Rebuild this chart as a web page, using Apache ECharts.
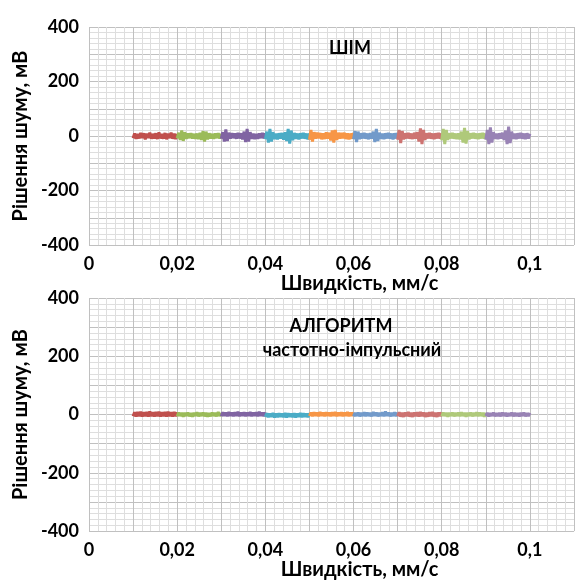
<!DOCTYPE html>
<html>
<head>
<meta charset="utf-8">
<title></title>
<script type="text/javascript" src="https://cdn.jsdelivr.net/npm/echarts@6/dist/echarts.min.js"></script>
<style>
  html, body { margin: 0; padding: 0; background: #fff; }
</style>
</head>
<body>
<div id="main" style="width:577px;height:581px;"></div>
<script type="text/javascript">
// speeds where each coloured piece starts (mm/s), each piece covers 0.01
var segStarts = [0.01, 0.02, 0.03, 0.04, 0.05, 0.06, 0.07, 0.08, 0.09];
var segColors = ['#C0504D', '#9BBB59', '#8064A2', '#4BACC6', '#F79646', '#729ACA', '#CD7371', '#AFC97A', '#9983B5'];
var xTickLabels = ['0', '0,02', '0,04', '0,06', '0,08', '0,1'];
var yTickLabels = ['-400', '-200', '0', '200', '400'];

// noise (ШІМ), mV
var pwmNoise = [
  [-8, 9, -10, 7, -9, 11, -8, 10, -12, 9, -7, 12, -10, 8, -9, 10, -11, 13, -9, 8, -10, 11, -12, 9, -8, 12, -10, 9, -11, 8],
  [-9, 12, -14, 20, -18, 14, -10, 9, -8, 10, -9, 8, -10, 9, -11, 12, -14, 18, -20, 16, -12, 10, -9, 8, -10, 9, -8, 10, -9, 8],
  [-10, 14, -20, 24, -18, 12, -9, 10, -8, 9, -10, 11, -9, 10, -12, 16, -22, 26, -20, 14, -10, 9, -11, 8, -10, 9, -8, 11, -9, 10],
  [-12, 16, -24, 26, -20, 14, -11, 9, -12, 10, -9, 11, -13, 14, -18, 26, -28, 20, -15, 11, -10, 9, -12, 10, -9, 11, -10, 9, -12, 10],
  [-14, 22, -20, 14, -10, 12, -9, 11, -12, 10, -11, 13, -10, 12, -16, 20, -24, 22, -14, 12, -10, 11, -9, 12, -11, 10, -12, 9, -10, 11],
  [-12, 18, -22, 16, -11, 10, -9, 11, -10, 9, -12, 11, -10, 16, -22, 26, -18, 12, -10, 9, -11, 10, -9, 11, -10, 9, -12, 10, -9, 11],
  [-14, 22, -26, 18, -12, 10, -9, 11, -10, 9, -11, 12, -10, 14, -20, 28, -30, 22, -14, 10, -9, 11, -10, 9, -11, 10, -9, 11, -10, 9],
  [-16, 26, -30, 22, -14, 10, -9, 11, -10, 9, -11, 10, -12, 16, -24, 30, -28, 18, -12, 10, -9, 11, -10, 9, -11, 10, -9, 11, -10, 9],
  [-14, 22, -30, 32, -24, 14, -10, 9, -11, 10, -9, 12, -14, 20, -30, 34, -26, 16, -10, 9, -11, 10, -9, 11, -10, 9, -11, 10, -9, 8]
];

// noise (частотно-імпульсний), mV
var fpmNoise = [
  [-6, 8, -7, 9, -6, 10, -7, 8, -6, 9, -7, 11, -6, 8, -7, 9, -6, 10, -7, 8, -6, 9, -7, 10, -6, 8, -7, 9, -6, 8],
  [-6, 7, -5, 6, -7, 6, -5, 7, -6, 5, -7, 6, -5, 8, -6, 6, -5, 7, -6, 6, -7, 5, -6, 7, -5, 6, -6, 9, -5, 6],
  [-6, 8, -5, 7, -6, 9, -5, 7, -6, 8, -5, 10, -6, 7, -5, 8, -6, 7, -5, 9, -6, 7, -5, 8, -6, 10, -5, 7, -6, 8],
  [-8, 4, -9, 3, -8, 5, -10, 3, -9, 4, -8, 3, -9, 5, -10, 4, -8, 3, -9, 4, -10, 3, -8, 5, -9, 4, -8, 3, -9, 4],
  [-5, 7, -6, 8, -5, 7, -6, 9, -5, 7, -6, 8, -5, 7, -6, 8, -5, 9, -6, 7, -5, 8, -6, 7, -5, 9, -6, 7, -5, 8],
  [-6, 6, -5, 7, -6, 6, -5, 8, -6, 7, -5, 6, -6, 9, -5, 7, -6, 6, -5, 8, -6, 11, -5, 7, -6, 6, -5, 8, -6, 7],
  [-6, 8, -7, 6, -8, 7, -6, 9, -7, 6, -8, 7, -6, 8, -7, 9, -6, 7, -8, 6, -7, 8, -6, 9, -7, 6, -8, 7, -6, 8],
  [-6, 7, -5, 6, -7, 6, -5, 7, -6, 6, -5, 7, -6, 8, -5, 6, -7, 6, -5, 7, -6, 6, -5, 8, -6, 7, -5, 6, -7, 6],
  [-5, 6, -6, 5, -5, 7, -6, 5, -5, 6, -6, 7, -5, 6, -6, 5, -5, 7, -6, 6, -5, 5, -6, 6, -5, 7, -6, 5, -5, 6]
];

var FONT = 'Lato';

function toPairs(start, vals) {
  var step = 0.01 / (vals.length - 1);
  return vals.map(function (v, i) { return [start + i * step, v]; });
}

function xAxisFor(idx) {
  return {
    gridIndex: idx, type: 'value', min: 0, max: 0.11, interval: 0.01,
    name: 'Швидкість, мм/с', nameLocation: 'middle', nameGap: 28,
    nameTextStyle: { fontFamily: FONT, fontWeight: 'bold', fontSize: 20, color: '#000', padding: [0, 0, 0, 56] },
    axisLine: { show: false }, axisTick: { show: false },
    axisLabel: {
      margin: 10, fontFamily: FONT, fontWeight: 'bold', fontSize: 18, color: '#000',
      formatter: function (v) {
        var k = Math.round(v * 100);
        return (k % 2 === 0 && k / 2 < xTickLabels.length) ? xTickLabels[k / 2] : '';
      }
    },
    splitLine: { show: true, lineStyle: { color: '#c0c0c0', width: 1 } },
    minorTick: { show: false, splitNumber: 5 },
    minorSplitLine: { show: true, lineStyle: { color: '#dedede', width: 1 } }
  };
}

function yAxisFor(idx) {
  return {
    gridIndex: idx, type: 'value', min: -400, max: 400, interval: 100,
    name: 'Рішення шуму, мВ', nameLocation: 'middle', nameGap: 57, nameRotate: 90,
    nameTextStyle: { fontFamily: FONT, fontWeight: 'bold', fontSize: 20, color: '#000' },
    axisLine: { show: false }, axisTick: { show: false },
    axisLabel: {
      margin: 10, fontFamily: FONT, fontWeight: 'bold', fontSize: 18, color: '#000',
      formatter: function (v) {
        var k = Math.round(v / 200) + 2;
        return (v % 200 === 0) ? yTickLabels[k] : '';
      }
    },
    splitLine: { show: true, lineStyle: { color: '#c0c0c0', width: 1 } },
    minorTick: { show: false, splitNumber: 5 },
    minorSplitLine: { show: true, lineStyle: { color: '#dedede', width: 1 } }
  };
}

var series = [];
[pwmNoise, fpmNoise].forEach(function (panel, p) {
  panel.forEach(function (vals, i) {
    series.push({
      type: 'line', xAxisIndex: p, yAxisIndex: p,
      data: toPairs(segStarts[i], vals),
      showSymbol: false, silent: true, animation: false,
      lineStyle: { color: segColors[i], width: 3 }
    });
  });
});

var myChart = echarts.init(document.getElementById('main'));
var option = {
  backgroundColor: '#fff',
  animation: false,
  title: [
    { text: 'ШІМ', left: 345, top: 34, textAlign: 'center',
      textStyle: { fontFamily: FONT, fontWeight: 'bold', fontSize: 18, color: '#000' } },
    { text: 'АЛГОРИТМ', left: 336, top: 312, textAlign: 'center',
      textStyle: { fontFamily: FONT, fontWeight: 'bold', fontSize: 18, color: '#000' } },
    { text: 'частотно-імпульсний', left: 347, top: 336, textAlign: 'center',
      textStyle: { fontFamily: FONT, fontWeight: 'bold', fontSize: 18, color: '#000' } }
  ],
  grid: [
    { left: 89, top: 27, width: 489, height: 218 },
    { left: 89, top: 298, width: 489, height: 235 }
  ],
  xAxis: [xAxisFor(0), xAxisFor(1)],
  yAxis: [yAxisFor(0), yAxisFor(1)],
  series: series
};
myChart.setOption(option);
</script>
</body>
</html>
